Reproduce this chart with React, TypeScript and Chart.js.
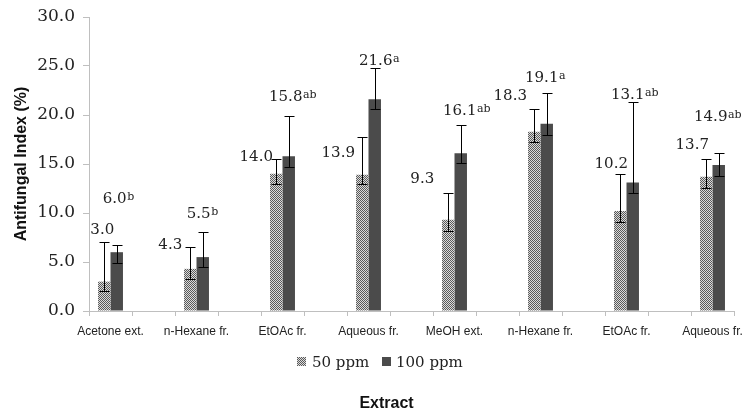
import React, { useEffect, useRef } from 'react';
import { Chart, registerables } from 'chart.js';

Chart.register(...registerables);

// ---- data ----
const categories = ['Acetone ext.', 'n-Hexane fr.', 'EtOAc fr.', 'Aqueous fr.', 'MeOH ext.', 'n-Hexane fr.', 'EtOAc fr.', 'Aqueous fr.'];
const values50 = [3.0, 4.3, 14.0, 13.9, 9.3, 18.3, 10.2, 13.7];
const errHigh50 = [7.0, 6.5, 15.5, 17.8, 12.0, 20.6, 14.0, 15.5];
const errLow50 = [2.0, 3.3, 13.0, 13.0, 8.2, 17.2, 9.1, 12.6];
const values100 = [6.0, 5.5, 15.8, 21.6, 16.1, 19.1, 13.1, 14.9];
const errHigh100 = [6.7, 8.1, 19.9, 24.8, 19.0, 22.2, 21.3, 16.1];
const errLow100 = [4.9, 4.5, 14.7, 20.6, 15.1, 18.0, 12.0, 13.8];
const letters100 = ['b', 'b', 'ab', 'a', 'ab', 'a', 'ab', 'ab'];
const seriesNames = ['50 ppm', '100 ppm'];
const yMin = 0;
const yMax = 30;
const yStep = 5;

// ---- label layout (value-units for height, px offsets for x) ----
const labelAt50 = [8.43, 6.9, 15.9, 16.3, 13.65, 22.1, 15.2, 17.1];
const labelDx50 = [-2, -20, -20, -24, -26, -24, -9, -14];
const labelAt100 = [11.55, 10.1, 22.0, 25.65, 20.6, 23.9, 22.2, 20.0];
const labelDx100 = [-2, -4, -3, 1, -1, -5, -5, -8];

// slots: category, blank, category, blank ...
const slotLabels: string[] = categories.flatMap((c, i) => (i < categories.length - 1 ? [c, ''] : [c]));
const toSlots = (arr: number[]) => arr.flatMap((v, i) => (i < arr.length - 1 ? [v, null] : [v]));

const SERIF = '"DejaVu Serif", serif';
const SANS = '"Liberation Sans", Arial, sans-serif';
const DARK = '#4b4b4b';

function makePattern(): CanvasPattern | string {
  const pc = document.createElement('canvas');
  pc.width = 2;
  pc.height = 2;
  const p = pc.getContext('2d');
  if (!p) return '#999';
  p.fillStyle = '#dcdcdc';
  p.fillRect(0, 0, 2, 2);
  p.fillStyle = '#5a5a5a';
  p.fillRect(0, 0, 1, 1);
  p.fillRect(1, 1, 1, 1);
  const ctx = document.createElement('canvas').getContext('2d');
  return (ctx && ctx.createPattern(pc, 'repeat')) || '#999';
}

export default function App() {
  const ref = useRef<HTMLCanvasElement>(null);

  useEffect(() => {
    if (!ref.current) return;
    const pattern = makePattern();

    const overlay = {
      id: 'overlay',
      afterDatasetsDraw(chart: any) {
        const ctx = chart.ctx as CanvasRenderingContext2D;
        const y = chart.scales.y;
        const m50 = chart.getDatasetMeta(0);
        const m100 = chart.getDatasetMeta(1);
        ctx.save();
        // error bars
        ctx.strokeStyle = '#000';
        ctx.lineWidth = 1;
        const drawErr = (x: number, hi: number, lo: number) => {
          const cx = Math.round(x) + 0.5;
          const yh = Math.round(y.getPixelForValue(hi)) + 0.5;
          const yl = Math.round(y.getPixelForValue(lo)) + 0.5;
          ctx.beginPath();
          ctx.moveTo(cx, yh);
          ctx.lineTo(cx, yl);
          ctx.moveTo(cx - 5, yh);
          ctx.lineTo(cx + 5, yh);
          ctx.moveTo(cx - 5, yl);
          ctx.lineTo(cx + 5, yl);
          ctx.stroke();
        };
        categories.forEach((_, i) => {
          const b50 = m50.data[i * 2];
          const b100 = m100.data[i * 2];
          drawErr(b50.x, errHigh50[i], errLow50[i]);
          drawErr(b100.x, errHigh100[i], errLow100[i]);
        });
        // value labels
        ctx.fillStyle = '#222';
        ctx.textBaseline = 'alphabetic';
        categories.forEach((_, i) => {
          const b50 = m50.data[i * 2];
          const b100 = m100.data[i * 2];
          ctx.font = `15px ${SERIF}`;
          ctx.textAlign = 'center';
          const t50 = values50[i].toFixed(1);
          ctx.fillText(t50, b50.x + labelDx50[i], y.getPixelForValue(labelAt50[i]) + 5.5);
          const t100 = values100[i].toFixed(1);
          const cx = b100.x + labelDx100[i];
          const base = y.getPixelForValue(labelAt100[i]) + 5.5;
          ctx.fillText(t100, cx, base);
          const w = ctx.measureText(t100).width;
          ctx.font = `11px ${SERIF}`;
          ctx.textAlign = 'left';
          ctx.fillText(letters100[i], cx + w / 2 + 0.5, base - 3);
        });
        ctx.restore();
      },
      afterDraw(chart: any) {
        const ctx = chart.ctx as CanvasRenderingContext2D;
        const area = chart.chartArea;
        ctx.save();
        // y title
        ctx.fillStyle = '#111';
        ctx.font = `bold 16px ${SANS}`;
        ctx.textAlign = 'center';
        ctx.textBaseline = 'alphabetic';
        ctx.translate(26, (area.top + area.bottom) / 2);
        ctx.rotate(-Math.PI / 2);
        ctx.fillText('Antifungal Index (%)', 0, 0);
        ctx.restore();

        ctx.save();
        // legend
        ctx.fillStyle = pattern as any;
        ctx.fillRect(297, 357, 9, 9);
        ctx.fillStyle = DARK;
        ctx.fillRect(382, 357, 9, 9);
        ctx.fillStyle = '#222';
        ctx.font = `15px ${SERIF}`;
        ctx.textAlign = 'left';
        ctx.textBaseline = 'alphabetic';
        ctx.fillText(seriesNames[0], 312, 367);
        ctx.fillText(seriesNames[1], 396, 367);
        // x title
        ctx.fillStyle = '#111';
        ctx.font = `bold 16px ${SANS}`;
        ctx.textAlign = 'center';
        ctx.fillText('Extract', 386.5, 408);
        ctx.restore();
      },
    };

    const chart = new Chart(ref.current, {
      type: 'bar',
      data: {
        labels: slotLabels,
        datasets: [
          {
            label: seriesNames[0],
            data: toSlots(values50) as any,
            backgroundColor: pattern as any,
            borderWidth: 0,
            categoryPercentage: 0.58,
            barPercentage: 1.0,
          },
          {
            label: seriesNames[1],
            data: toSlots(values100) as any,
            backgroundColor: DARK,
            borderWidth: 0,
            categoryPercentage: 0.58,
            barPercentage: 1.0,
          },
        ],
      },
      options: {
        animation: false,
        responsive: false,
        devicePixelRatio: 1,
        layout: { padding: { top: 17, right: 8, bottom: 0, left: 0 } },
        plugins: {
          legend: { display: false },
          tooltip: { enabled: false },
        },
        scales: {
          x: {
            type: 'category',
            offset: true,
            grid: { offset: true, drawOnChartArea: false, drawTicks: true, tickLength: 5, color: '#bfbfbf' },
            border: { color: '#bfbfbf' },
            ticks: {
              autoSkip: false,
              maxRotation: 0,
              minRotation: 0,
              padding: 8,
              color: '#222',
              font: { family: SANS, size: 12 },
            },
            afterFit: (s: any) => {
              s.height = 100;
              s.paddingLeft = 0;
              s.paddingRight = 0;
            },
          },
          y: {
            min: yMin,
            max: yMax,
            grid: { drawOnChartArea: false, drawTicks: true, tickLength: 6, color: '#bfbfbf' },
            border: { color: '#bfbfbf' },
            ticks: {
              stepSize: yStep,
              padding: 8,
              color: '#222',
              font: { family: SERIF, size: 17 },
              callback: (v: any) => Number(v).toFixed(1),
            },
            afterFit: (s: any) => {
              s.width = 89;
              s.paddingTop = 0;
              s.paddingBottom = 0;
            },
          },
        },
      },
      plugins: [overlay],
    });

    return () => chart.destroy();
  }, []);

  return (
    <div style={{ position: 'fixed', left: 0, top: 0, width: 742, height: 411, background: '#fff' }}>
      <canvas ref={ref} width={742} height={411} style={{ width: 742, height: 411, display: 'block' }} />
    </div>
  );
}
